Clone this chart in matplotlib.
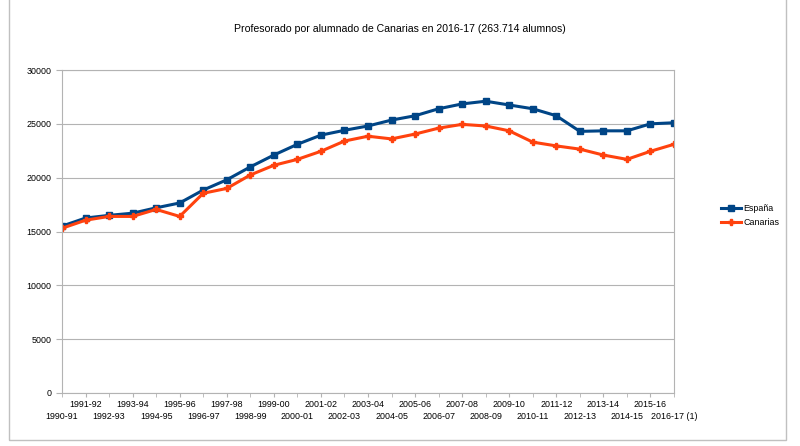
import matplotlib
matplotlib.use("Agg")
import matplotlib.pyplot as plt
from matplotlib.patches import Rectangle
from matplotlib import font_manager

installed = {f.name for f in font_manager.fontManager.ttflist}
if "Liberation Sans Narrow" in installed:
    plt.rcParams['font.family'] = ['Liberation Sans Narrow', 'DejaVu Sans']
    fs, title_fs = 7.5, 9
else:
    plt.rcParams['font.family'] = ['Liberation Sans', 'DejaVu Sans']
    fs, title_fs = 6.4, 7.6

cursos = ["1990-91", "1991-92", "1992-93", "1993-94", "1994-95", "1995-96", "1996-97",
          "1997-98", "1998-99", "1999-00", "2000-01", "2001-02", "2002-03", "2003-04",
          "2004-05", "2005-06", "2006-07", "2007-08", "2008-09", "2009-10", "2010-11",
          "2011-12", "2012-13", "2013-14", "2014-15", "2015-16", "2016-17 (1)"]

espana = [15500, 16250, 16500, 16700, 17200, 17650, 18850, 19800, 21000, 22100, 23100,
          23950, 24400, 24800, 25350, 25750, 26400, 26850, 27100, 26750, 26400, 25750,
          24300, 24350, 24350, 25000, 25100]

canarias = [15300, 16050, 16400, 16400, 17050, 16400, 18550, 19000, 20250, 21150, 21700,
            22450, 23400, 23850, 23600, 24050, 24600, 24950, 24800, 24350, 23300, 22950,
            22650, 22100, 21700, 22450, 23100]

fig = plt.figure(figsize=(8, 4.46), dpi=100)
ax = fig.add_axes([62/800, 53/446, 612/800, 323/446])

x = list(range(len(cursos)))
ax.plot(x, espana, color="#004586", lw=2.2, marker="s", ms=5, label="España")
ax.plot(x, canarias, color="#ff420e", lw=2.2, marker="P", ms=5, label="Canarias")

ax.set_xlim(0, len(cursos) - 1)
ax.set_ylim(0, 30000)
ax.set_yticks(range(0, 30001, 5000))
ax.grid(axis="y", color="#b3b3b3", lw=0.8)
ax.set_axisbelow(True)

# staggered category labels: odd ones on the upper row, even ones below
ax.set_xticks(x[1::2])
ax.set_xticklabels(cursos[1::2])
ax.set_xticks(x[0::2], minor=True)
ax.set_xticklabels(cursos[0::2], minor=True)
ax.tick_params(axis="x", which="major", labelsize=fs, color="#b3b3b3", length=3, pad=2)
ax.tick_params(axis="x", which="minor", labelsize=fs, color="#b3b3b3", length=3, pad=11)
ax.tick_params(axis="y", labelsize=fs, color="#b3b3b3", length=4)
for s in ax.spines.values():
    s.set_color("#b3b3b3")
    s.set_linewidth(0.8)

fig.text(0.5, 1 - 29/446, "Profesorado por alumnado de Canarias en 2016-17 (263.714 alumnos)",
         ha="center", va="center", fontsize=title_fs)

ax.legend(loc="center left", bbox_to_anchor=(1.07, 0.55), frameon=False, fontsize=fs,
          handlelength=2.2, handletextpad=0.3, borderpad=0, labelspacing=0.6)

fig.patches.append(Rectangle((9/800, 6/446), 777/800, 450/446, transform=fig.transFigure,
                             fill=False, edgecolor="#c0c0c0", lw=1))

fig.savefig("out.png", dpi=100)
